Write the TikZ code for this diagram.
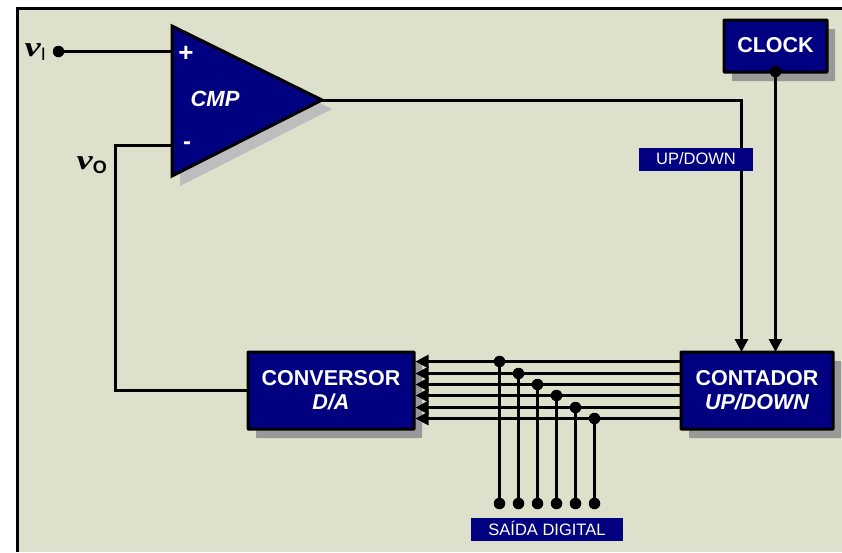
\documentclass[tikz,border=0pt]{standalone}
\usepackage{fontspec}
\setmainfont{Liberation Sans}
\newfontfamily\vfont[FakeStretch=1.3]{Liberation Serif}
\usepackage{xcolor}
\usetikzlibrary{positioning,arrows.meta,calc,shadows}
\definecolor{panel}{HTML}{DDE0CB}
\definecolor{navy}{HTML}{000080}
\definecolor{shade}{HTML}{999999}
\definecolor{shadetri}{HTML}{BDBDBD}
\newcommand{\vsym}{{\vfont\bfseries\itshape\fontsize{28}{30}\selectfont v}}
\tikzset{
  wire/.style={draw=black, line width=2.9pt},
  buswire/.style={draw=black, line width=2.9pt},
  dotnode/.style={circle, fill=black, minimum size=11.5pt, inner sep=0pt},
  block/.style={rectangle, draw=black, fill=navy, line width=3pt, text=white, align=center, inner sep=0pt,
    font=\fontsize{21.5}{24.5}\selectfont\bfseries, rounded corners=0.6pt,
    drop shadow={shadow xshift=8pt, shadow yshift=-9pt, fill=shade, opacity=1}},
  tag/.style={rectangle, fill=navy, text=white, inner sep=0pt, font=\fontsize{16.5}{20}\selectfont},
  vlabel/.style={inner sep=0pt, font=\fontsize{18}{20}\selectfont},
  >={Triangle[length=13pt,width=13pt]},
}
\begin{document}
\begin{tikzpicture}[x=1pt,y=-1pt]
\useasboundingbox (0,0) rectangle (842,552);
% panel
\fill[panel] (17,8) rectangle (842,552);
\draw[line width=3pt] (17.5,552) -- (17.5,8.5) -- (842,8.5);
% comparator
\coordinate (ta) at (172,26);
\coordinate (tb) at (172,176);
\coordinate (tc) at (322,100);
\fill[shadetri] ($(ta)+(8,10)$) -- ($(tb)+(8,10)$) -- ($(tc)+(10,9)$) -- cycle;
\draw[fill=navy, line width=3pt, line join=miter] (ta) -- (tb) -- (tc) -- cycle;
\node[text=white, font=\fontsize{22}{26}\selectfont\bfseries\itshape] (cmp) at (215,98.5) {CMP};
\node[text=white, font=\fontsize{26}{30}\selectfont\bfseries] (plus) at (186,53.5) {+};
\node[text=white, font=\fontsize{24}{28}\selectfont\bfseries] (minus) at (187,146) {-};
% blocks
\node[block, minimum width=103pt, minimum height=52pt] (clock) at (775.5,46) {\raisebox{2pt}{CLOCK}};
\node[block, minimum width=166pt, minimum height=77pt] (dac) at (331,390.5) {\raisebox{1.5pt}{CONVERSOR}\\\raisebox{1.5pt}{\itshape D/A}};
\node[block, minimum width=152pt, minimum height=77pt] (cnt) at (757,390.5) {\raisebox{1.5pt}{CONTADOR}\\\raisebox{1.5pt}{\itshape UP/DOWN}};
% inputs
\node[dotnode] (vidot) at (58.5,51.5) {};
\node[vlabel, anchor=east] (vi) at (46,52) {\vsym\raisebox{-4pt}{I}};
\coordinate (inp) at (172,51.5);
\draw[wire] (vidot) -- (inp);
\coordinate (inm) at (172,145.5);
\coordinate (fbk) at (115.5,145.5);
\node[vlabel, anchor=east] (vo) at (107,165) {\vsym\raisebox{-4pt}{\bfseries O}};
\draw[wire] (inm) -- (fbk) |- (dac.west);
% up/down and clock
\coordinate (cmpout) at (322,100.5);
\coordinate (cntud) at (741.5,352);
\node[dotnode] (clkdot) at (775.5,71.5) {};
\coordinate (cntclk) at (775.5,352);
\draw[wire,->] (cmpout) -| (cntud);
\draw[wire,->] (clkdot) -- (cntclk);
\node[tag, minimum width=114pt, minimum height=23pt] (ud) at (696,159.5) {\raisebox{1.5pt}{UP/DOWN}};
% bus
\foreach \i/\bx/\by in {1/499.5/361.5, 2/518.5/373.5, 3/537.5/384.5, 4/556.5/395.5, 5/575.5/407.5, 6/594.5/418.5} {
  \coordinate (s\i) at (cnt.west |- 0,\by);
  \coordinate (d\i) at (dac.east |- 0,\by);
  \draw[buswire,->] (s\i) -- (d\i);
  \node[dotnode] (tp\i) at (\bx,\by) {};
  \node[dotnode] (out\i) at (\bx,503.5) {};
  \draw[buswire] (tp\i) -- (out\i);
}
\node[tag, minimum width=152pt, minimum height=23pt] (sd) at (547,529.5) {\raisebox{1.5pt}{SAÍDA DIGITAL}};
\end{tikzpicture}
\end{document}
